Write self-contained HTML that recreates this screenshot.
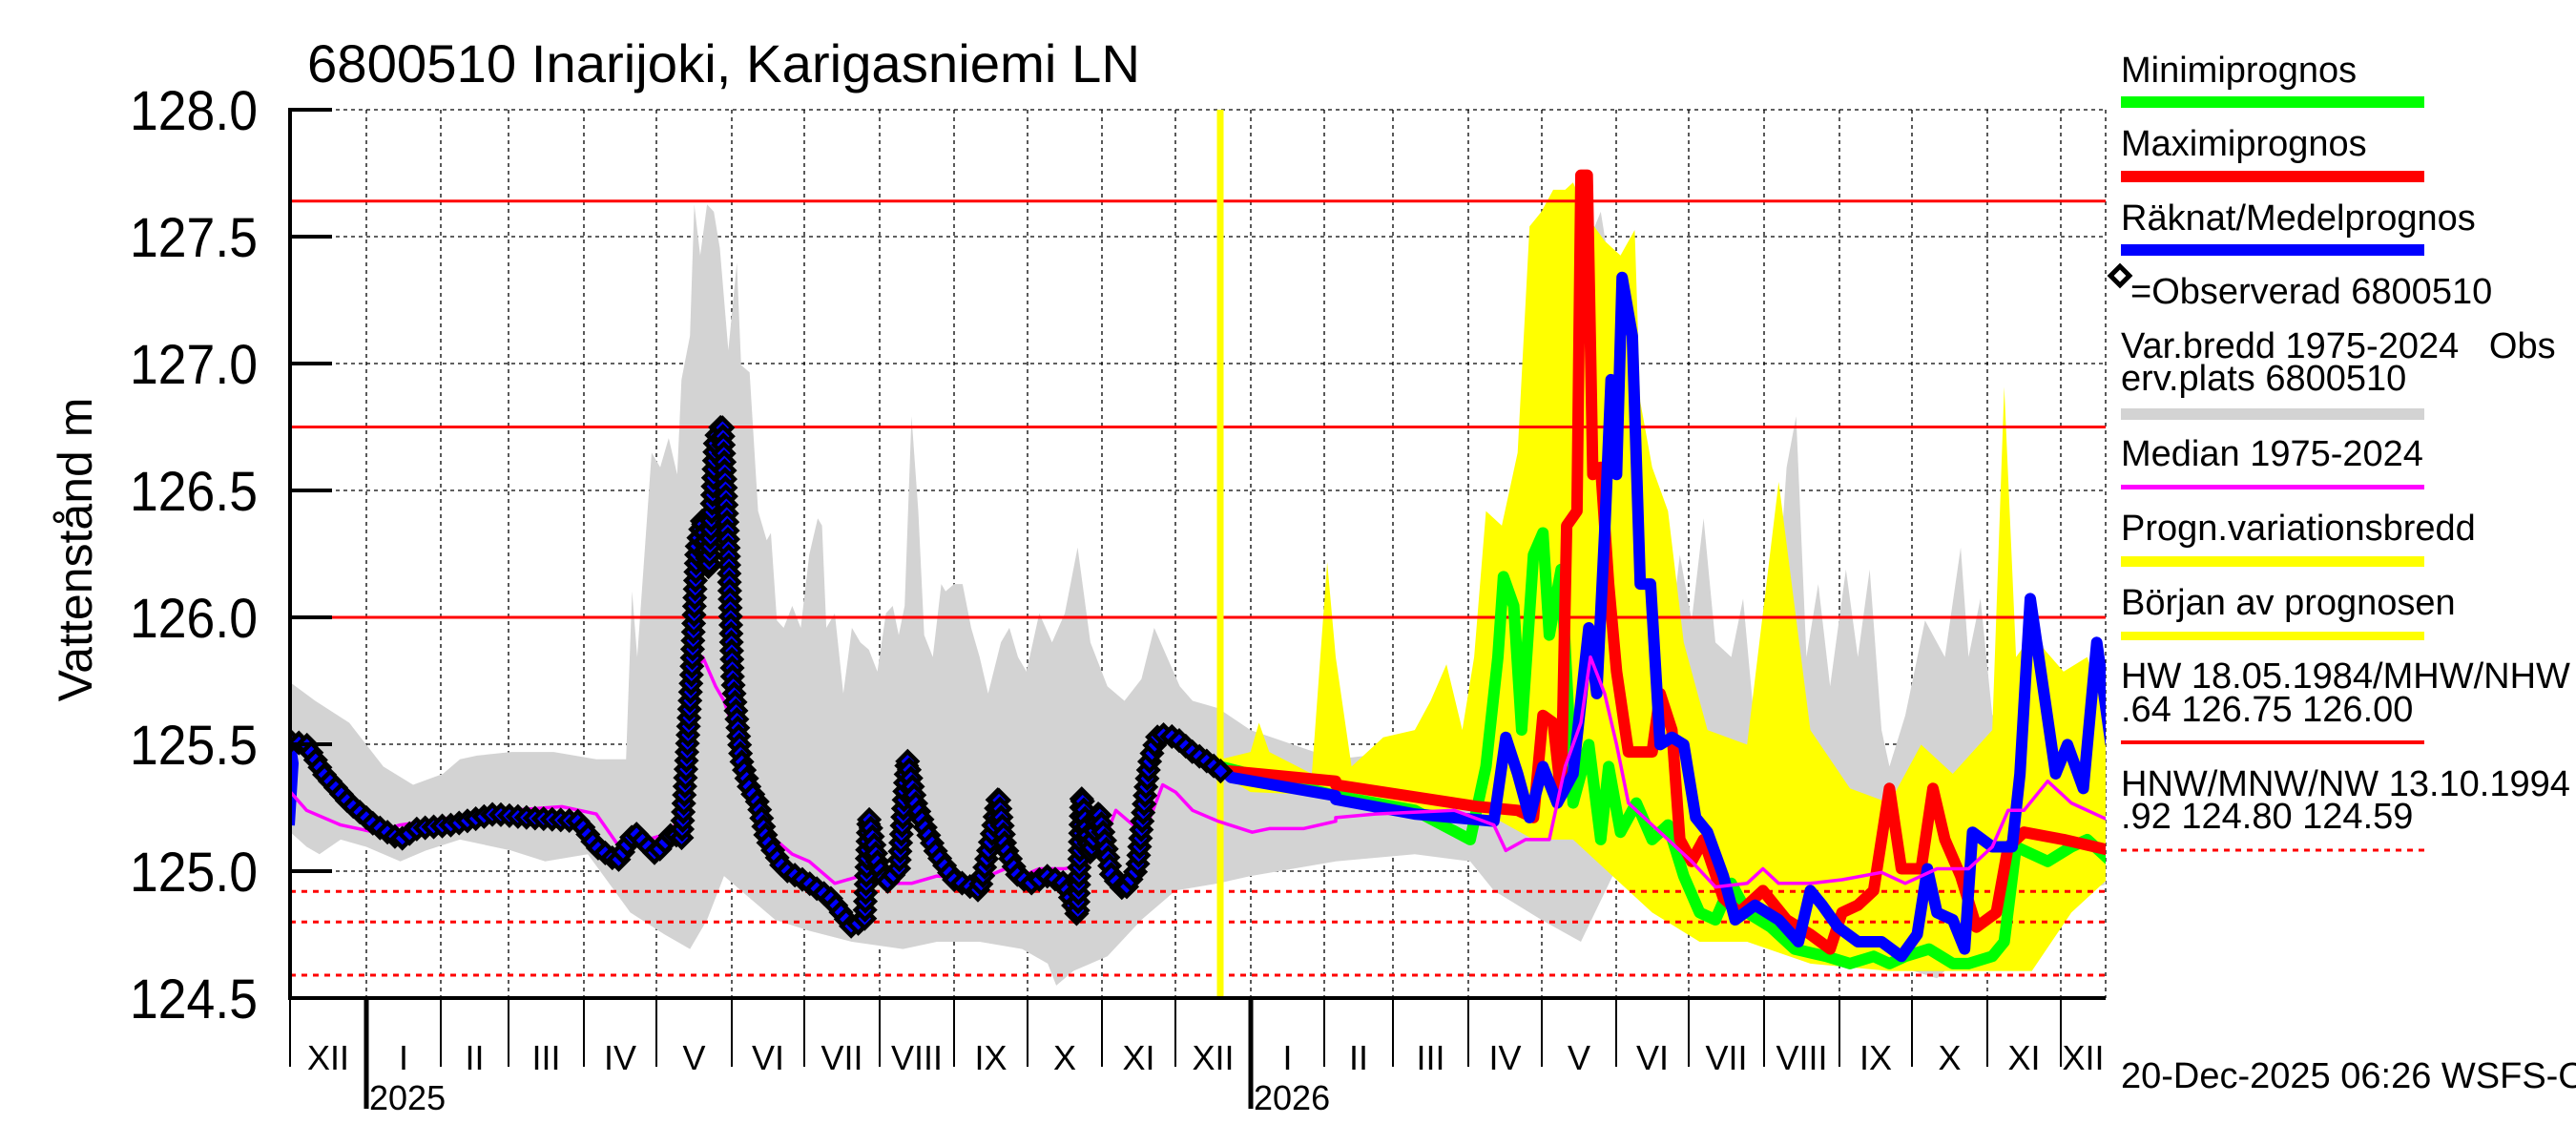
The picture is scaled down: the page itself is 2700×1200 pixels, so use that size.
<!DOCTYPE html>
<html><head><meta charset="utf-8"><style>html,body{margin:0;padding:0;background:#fff}svg{display:block}text{font-family:"Liberation Sans",sans-serif;fill:#000}</style></head>
<body>
<svg id="s" width="2700" height="1200" viewBox="0 0 2700 1200" xmlns="http://www.w3.org/2000/svg">
<defs><clipPath id="c"><rect x="304" y="115" width="1903" height="931"/></clipPath></defs>
<g id="grid"></g>
<g id="data" clip-path="url(#c)"></g>
<g id="axes"></g>
<text x="322" y="86" font-size="56" textLength="873" lengthAdjust="spacingAndGlyphs">6800510 Inarijoki, Karigasniemi LN</text>
<text transform="translate(96,576) rotate(-90)" font-size="50" text-anchor="middle">Vattenstånd m</text>
<g font-size="38">
<text x="2223" y="86">Minimiprognos</text>
<rect x="2223" y="101" width="318" height="12" fill="#00ff00"/>
<text x="2223" y="163">Maximiprognos</text>
<rect x="2223" y="179" width="318" height="12" fill="#ff0000"/>
<text x="2223" y="241">Räknat/Medelprognos</text>
<rect x="2223" y="256" width="318" height="12" fill="#0000ff"/>
<rect x="2215" y="282" width="14" height="14" fill="none" stroke="#000" stroke-width="5" transform="rotate(45 2222 289)"/>
<text x="2233" y="318">=Observerad 6800510</text>
<text x="2223" y="375" xml:space="preserve">Var.bredd 1975-2024   Obs</text>
<text x="2223" y="409">erv.plats 6800510</text>
<rect x="2223" y="428" width="318" height="12" fill="#d3d3d3"/>
<text x="2223" y="488">Median 1975-2024</text>
<rect x="2223" y="508" width="318" height="5" fill="#ff00ff"/>
<text x="2223" y="566">Progn.variationsbredd</text>
<rect x="2223" y="583" width="318" height="11" fill="#ffff00"/>
<text x="2223" y="644">Början av prognosen</text>
<rect x="2223" y="662" width="318" height="9" fill="#ffff00"/>
<text x="2223" y="721">HW 18.05.1984/MHW/NHW 127</text>
<text x="2223" y="756">.64 126.75 126.00</text>
<rect x="2223" y="776" width="318" height="4" fill="#ff0000"/>
<text x="2223" y="834">HNW/MNW/NW 13.10.1994 124</text>
<text x="2223" y="868">.92 124.80 124.59</text>
<line x1="2223" y1="891" x2="2541" y2="891" stroke="#ff0000" stroke-width="3" stroke-dasharray="6,6"/>
<text x="2223" y="1140">20-Dec-2025 06:26 WSFS-O</text>
</g>
</svg>
<script>
const NS="http://www.w3.org/2000/svg";
function el(p,t,a){const e=document.createElementNS(NS,t);for(const k in a)e.setAttribute(k,a[k]);p.appendChild(e);return e;}
function A(a){const r=[];for(let i=0;i<a.length;i+=2)r.push([a[i]/1.12,a[i+1]/1.307]);return r;}
function B(a){const r=[];for(let i=0;i<a.length;i+=2)r.push([1400+a[i]/1.206,a[i+1]/1.307]);return r;}
function P(pts){return pts.map((p,i)=>(i?"L":"M")+p[0].toFixed(1)+","+p[1].toFixed(1)).join("");}
const Y=v=>115+(128-v)*266;
const grid=document.getElementById("grid"),data=document.getElementById("data"),axes=document.getElementById("axes");
const months=[304,384,462,533,612,688,767,843,922,1000,1077,1155,1232,1311,1388,1460,1539,1616,1694,1770,1849,1928,2004,2083,2160,2207];
const mlab=["XII","I","II","III","IV","V","VI","VII","VIII","IX","X","XI","XII","I","II","III","IV","V","VI","VII","VIII","IX","X","XI","XII"];
for(let i=1;i<months.length;i++) el(grid,"line",{x1:months[i],y1:115,x2:months[i],y2:1046,stroke:"#000","stroke-width":1.3,"stroke-dasharray":"4,4"});
for(let v=124.5;v<=128.01;v+=0.5) el(grid,"line",{x1:304,y1:Y(v),x2:2207,y2:Y(v),stroke:"#000","stroke-width":1.3,"stroke-dasharray":"4,4"});
const gu=A([341,935,370,960,410,990,450,1050,485,1075,520,1060,540,1040,560,1035,600,1030,650,1030,700,1040,735,1040,742,810,748,900,765,620,775,640,785,600,795,650,800,520,810,460,815,280,822,350,830,280,838,290,845,340,855,480,865,360,870,500,880,510,890,700,900,740,905,730,912,850,920,860,930,830,940,860,950,760,960,710,965,720,970,860,980,840,990,950,1000,860,1010,880,1020,890,1030,920,1040,840,1048,830,1055,870,1062,830,1070,570,1078,700,1085,870,1095,900,1105,800,1110,810,1120,800,1130,800,1140,860,1150,900,1160,950,1175,880,1185,860,1195,900,1205,920,1220,840,1235,880,1250,840,1265,750,1280,880,1300,940,1320,960,1340,930,1355,860,1370,900,1385,940,1400,960,1430,970,1468,1000])
.concat(B([0,1040,40,1035,100,1040,160,1030,190,1030,210,950,240,860,260,620,280,700,300,450,320,330,335,290,350,390,370,500,380,700,395,880,405,730,420,900,435,760,450,850,465,710,480,880,500,900,515,820,530,1000,545,930,560,800,570,640,582,570,595,900,610,800,625,940,645,780,660,900,675,780,690,1000,700,1050,720,980,745,850,770,900,790,750,800,900,815,820,830,980,860,950,885,850,910,940,940,960,980,940]));
const gl=A([341,1140,360,1160,375,1170,400,1150,430,1160,470,1180,500,1165,540,1150,600,1165,640,1180,690,1170,740,1250,780,1280,810,1300,830,1260,850,1200,880,1230,910,1260,950,1275,1000,1290,1060,1300,1100,1290,1150,1290,1200,1300,1230,1320,1240,1350,1260,1330,1300,1310,1340,1260,1380,1220,1430,1210,1468,1200])
.concat(B([0,1180,100,1170,170,1180,200,1220,260,1260,310,1290,350,1200,380,1220,420,1260,500,1280,560,1300,620,1310,700,1320,760,1340,800,1300,850,1250,900,1230,980,1210]));
el(data,"path",{d:P(gu.concat(gl.slice().reverse()))+"Z",fill:"#d3d3d3"});
const yu=A([1433,1040,1468,1030,1478,990,1490,1030,1540,1060,1558,770]).concat(B([0,900,20,1050,60,1010,100,1000,120,960,140,910,160,1000,175,900,190,700,210,720,230,620,245,310,260,290,275,260,290,260,300,250,320,300,340,330,360,350,378,315,385,550,400,640,420,700,440,880,470,1000,520,1020,560,660,600,1000,650,1080,700,1100,740,1020,780,1060,830,1000,845,530,860,900,880,870,920,920,950,900,980,1000]));
const yl=B([980,1200,930,1250,880,1330,840,1330,780,1330,700,1330,600,1320,520,1290,460,1290,400,1250,350,1200,300,1150,250,1150,200,1120,170,1110,100,1110,0,1090]).concat(A([1468,1085,1433,1060]));
el(data,"path",{d:P(yu.concat(yl))+"Z",fill:"#ffff00"});
[127.64,126.75,126.0].forEach(v=>el(data,"line",{x1:304,y1:Y(v),x2:2207,y2:Y(v),stroke:"#ff0000","stroke-width":3}));
[124.92,124.80,124.59].forEach(v=>el(data,"line",{x1:304,y1:Y(v),x2:2207,y2:Y(v),stroke:"#ff0000","stroke-width":3,"stroke-dasharray":"6,6"}));
el(data,"line",{x1:1279,y1:115,x2:1279,y2:1046,stroke:"#ffff00","stroke-width":7});
const ln=(pts,c,w)=>el(data,"path",{d:P(pts),fill:"none",stroke:c,"stroke-width":w,"stroke-linejoin":"round"});
ln(A([1433,1050]).concat(B([0,1090,100,1110,170,1150,190,1050,205,900,212,790,225,830,235,1000,250,760,262,730,270,870,285,780,300,1100,320,1020,335,1150,345,1050,360,1140,380,1100,400,1150,420,1130,440,1200,460,1250,480,1260,500,1210,520,1250,550,1270,580,1300,620,1310,650,1320,680,1310,700,1320,720,1310,750,1300,780,1320,800,1320,830,1310,845,1290,860,1160,900,1180,930,1160,950,1150,980,1180])),"#00ff00",12);
ln(A([1433,1055,1568,1070]).concat(B([0,1075,180,1105,230,1110,250,1120,262,980,275,990,285,1090,292,720,305,700,310,240,318,240,325,650,335,640,345,800,355,920,370,1030,385,1030,400,1030,410,950,425,1000,435,1150,450,1180,465,1150,490,1230,510,1250,540,1220,570,1260,600,1280,625,1300,640,1250,660,1240,680,1220,700,1080,715,1190,740,1190,755,1080,770,1150,790,1200,810,1270,835,1250,850,1160,870,1140,920,1150,980,1165])),"#ff0000",12);
ln(A([1433,1050,1445,1065,1568,1090]).concat(B([0,1095,100,1115,200,1125,215,1010,230,1060,245,1120,262,1050,280,1100,300,1060,320,860,330,950,340,730,348,520,355,650,362,380,375,460,385,800,398,800,410,1020,425,1010,440,1020,455,1120,470,1140,490,1200,505,1260,530,1240,560,1260,585,1290,600,1220,615,1240,635,1270,660,1290,690,1290,715,1310,735,1280,748,1190,760,1250,780,1260,795,1300,805,1140,830,1160,855,1160,865,1060,878,820,890,910,910,1060,925,1020,945,1080,962,880,980,1020])),"#0000ff",12);
const obs=A([341,1015,360,1020,380,1060,410,1100,440,1130,470,1150,490,1135,530,1130,580,1115,620,1120,680,1125,700,1160,725,1180,745,1140,770,1170,790,1140,800,1150,805,1060,812,920,818,750,825,710,832,780,840,600,848,580,855,750,860,930,870,1040,880,1080,890,1100,900,1150,920,1190,950,1210,975,1230,1000,1270,1015,1260,1020,1120,1030,1180,1040,1210,1055,1190,1065,1040,1075,1100,1085,1130,1100,1170,1120,1205,1150,1220,1165,1140,1172,1090,1180,1160,1195,1200,1210,1210,1230,1200,1250,1210,1265,1255,1270,1090,1280,1170,1290,1110,1305,1200,1320,1220,1335,1190,1345,1080,1350,1040,1360,1005,1380,1010,1400,1030,1420,1045,1435,1058]);
ln([[304,865],[308,800]].concat(obs),"#0000ff",10);
ln(A([341,1085,360,1110,400,1130,440,1140,470,1130,530,1120,600,1110,660,1105,700,1115,730,1165,760,1150,790,1140,800,1090,810,960,825,900,840,940,850,960,870,1030,880,1090,900,1140,930,1170,950,1180,980,1210,1010,1200,1030,1190,1040,1210,1070,1210,1100,1200,1150,1205,1180,1190,1200,1200,1220,1190,1250,1190,1280,1180,1300,1140,1310,1110,1330,1130,1350,1120,1365,1075,1380,1085,1400,1110,1430,1125,1470,1140,1490,1135,1530,1135,1568,1125]).concat(B([0,1120,50,1115,150,1110,200,1130,215,1165,240,1150,270,1150,290,1050,310,990,322,900,340,950,355,1020,370,1100,400,1130,420,1150,450,1180,480,1215,520,1210,540,1190,560,1210,600,1210,640,1205,690,1195,720,1210,760,1190,800,1190,830,1160,850,1110,870,1110,900,1070,930,1100,980,1125])),"#ff00ff",3.5);
const op=el(data,"path",{d:P(obs),fill:"none",stroke:"none"});
const L=op.getTotalLength();
for(let s=0;s<=L;s+=9){const p=op.getPointAtLength(s);el(data,"rect",{x:p.x-7,y:p.y-7,width:14,height:14,fill:"#0000ff",stroke:"#000","stroke-width":4.5,transform:`rotate(45 ${p.x} ${p.y})`});}
el(axes,"line",{x1:304,y1:113,x2:304,y2:1048,stroke:"#000","stroke-width":4});
el(axes,"line",{x1:302,y1:1046,x2:2207,y2:1046,stroke:"#000","stroke-width":4});
for(let v=124.5;v<=128.01;v+=0.5){el(axes,"line",{x1:304,y1:Y(v),x2:348,y2:Y(v),stroke:"#000","stroke-width":4});
el(axes,"text",{x:270,y:Y(v)+21,"font-size":58,"text-anchor":"end",textLength:134,lengthAdjust:"spacingAndGlyphs"}).textContent=v.toFixed(1);}
for(let i=0;i<months.length-1;i++){const maj=(i==1||i==13);
el(axes,"line",{x1:months[i],y1:1046,x2:months[i],y2:maj?1162:1118,stroke:"#000","stroke-width":maj?5:2});
el(axes,"text",{x:(months[i]+months[i+1])/2,y:1121,"font-size":36,"text-anchor":"middle"}).textContent=mlab[i];}
el(axes,"text",{x:387,y:1163,"font-size":36}).textContent="2025";
el(axes,"text",{x:1314,y:1163,"font-size":36}).textContent="2026";
</script>
</body></html>
